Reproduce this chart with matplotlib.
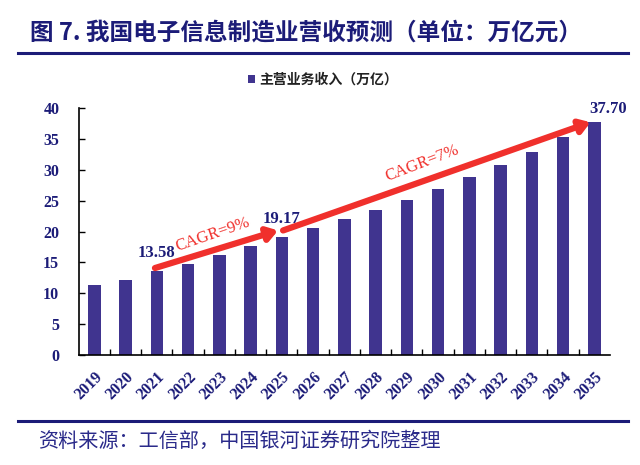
import matplotlib.pyplot as plt
import numpy as np

years = ['2019', '2020', '2021', '2022', '2023', '2024', '2025', '2026', '2027',
         '2028', '2029', '2030', '2031', '2032', '2033', '2034', '2035']
revenue = [11.30, 12.20, 13.58, 14.80, 16.13, 17.58, 19.17, 20.51, 21.95,
           23.48, 25.13, 26.89, 28.77, 30.78, 32.94, 35.24, 37.70]
label_idx = [2, 6, 16]
cagr_text = ['CAGR=9%', 'CAGR=7%']

navy = '#1c1c78'
bar_color = '#40348f'
red = '#f0302c'
serif = ['Liberation Serif', 'DejaVu Serif']
cjk = ['Noto Sans CJK SC', 'DejaVu Sans']

fig = plt.figure(figsize=(6.4, 4.65), dpi=100)
ax = fig.add_axes([0.123, 0.2366, 0.830, 0.5311])

x = np.arange(len(years))
ax.bar(x, revenue, width=0.4, color=bar_color, label='主营业务收入（万亿）', zorder=2)

ax.set_xlim(-0.5, len(years) - 0.5)
ax.set_ylim(0, 40)
ax.set_yticks(np.arange(0, 41, 5))
ax.set_xticks(x)
ax.set_xticklabels(years, rotation=45, ha='right', rotation_mode='anchor')
ax.set_xticks(np.arange(0.5, len(years) - 1, 1), minor=True)
ax.tick_params(axis='x', which='major', length=0, pad=10)
ax.tick_params(axis='x', which='minor', direction='in', length=4, width=1)
ax.tick_params(axis='y', direction='in', length=4, width=1, pad=14)
for lab in ax.get_xticklabels() + ax.get_yticklabels():
    lab.set_fontfamily(serif)
    lab.set_fontweight('bold')
    lab.set_color(navy)
    lab.set_fontsize(11.5)
for lab in ax.get_xticklabels():
    lab.set_x(lab.get_position()[0] + 0.2)
for s in ['top', 'right']:
    ax.spines[s].set_visible(False)
for s in ['left', 'bottom']:
    ax.spines[s].set_linewidth(1.2)

# value labels
offsets = [(0, 1.6), (0, 1.6), (0.45, 0.9)]
for i, (dx, dy) in zip(label_idx, offsets):
    ax.text(i + dx, revenue[i] + dy, '%.2f' % revenue[i], ha='center', va='bottom',
            fontsize=12, fontweight='bold', color=navy, family=serif, clip_on=False)

# CAGR arrows
arrow = dict(arrowstyle='-|>,head_length=0.6,head_width=0.4',
             lw=4.5, color=red, shrinkA=0, shrinkB=0)
ax.annotate('', xy=(5.88, revenue[6] + 1.0), xytext=(1.94, revenue[2] + 0.5),
            arrowprops=arrow)
ax.annotate('', xy=(15.88, revenue[16]), xytext=(6.04, revenue[6] + 1.0),
            arrowprops=arrow)
ax.text(3.8, 19.5, cagr_text[0], rotation=19, ha='center', va='center',
        fontsize=12, color=red, family=serif)
ax.text(10.5, 31.0, cagr_text[1], rotation=21, ha='center', va='center',
        fontsize=12, color=red, family=serif)

# legend
leg = fig.legend(loc='center', bbox_to_anchor=(0.505, 1 - 80 / 465), frameon=False,
                 handlelength=0.5, handleheight=0.5, handletextpad=0.3,
                 prop={'family': cjk, 'weight': 'bold', 'size': 10})
for t in leg.get_texts():
    t.set_color('#222222')

# title and rules
fig.text(30 / 640, 1 - 33 / 465, '图 7. 我国电子信息制造业营收预测（单位：万亿元）',
         ha='left', va='center', fontsize=17, fontweight='bold', color=navy, family=cjk)
fig.add_artist(plt.Line2D([18 / 640, 628 / 640], [1 - 53 / 465] * 2, color=navy, lw=2.2))
fig.add_artist(plt.Line2D([18 / 640, 628 / 640], [1 - 421 / 465] * 2, color=navy, lw=2.2))
fig.text(38 / 640, 1 - 441 / 465, '资料来源：工信部，中国银河证券研究院整理',
         ha='left', va='center', fontsize=14.5, color='#2a2a8a', family=cjk)

fig.savefig('out.png', dpi=100)
